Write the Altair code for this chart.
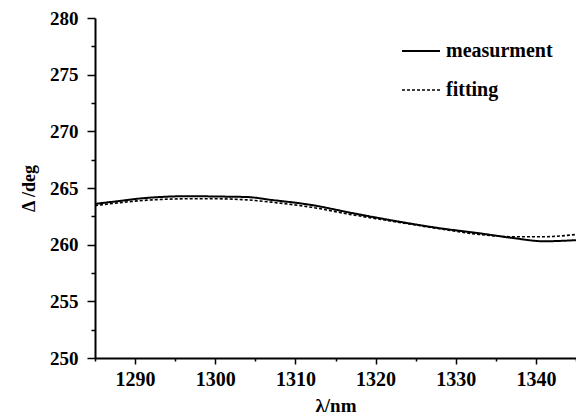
import altair as alt
import pandas as pd

# ---- data ----
wavelength = [1285, 1288, 1291, 1297, 1300, 1304, 1307, 1312, 1317, 1320, 1324, 1328, 1333, 1337, 1341, 1345]
measurement = [263.6, 263.85, 264.1, 264.28, 264.25, 264.2, 263.95, 263.5, 262.8, 262.4, 261.9, 261.45, 261.0, 260.6, 260.3, 260.4]
fitting = [263.45, 263.7, 263.9, 264.05, 264.05, 263.95, 263.75, 263.3, 262.65, 262.3, 261.85, 261.4, 260.9, 260.7, 260.7, 260.9]
series_names = ["measurment", "fitting"]
x_tick_values = [1285, 1290, 1295, 1300, 1305, 1310, 1315, 1320, 1325, 1330, 1335, 1340, 1345]
y_tick_values = [250, 252.5, 255, 257.5, 260, 262.5, 265, 267.5, 270, 272.5, 275, 277.5, 280]

rows = []
for name, vals in zip(series_names, [measurement, fitting]):
    for i, (w, v) in enumerate(zip(wavelength, vals)):
        rows.append({"wavelength": w, "delta": v, "series": name, "order": i})
df = pd.DataFrame(rows)

FONT = "Liberation Serif, Times New Roman, serif"

x_axis = alt.Axis(
    values=x_tick_values, format="d",
    labelExpr="datum.value % 10 == 0 && datum.value > 1285 && datum.value < 1345 ? datum.label : ''",
    tickSize={"condition": {"test": "datum.value % 10 == 0", "value": 6}, "value": 3},
    tickColor="black", tickWidth=1.5,
    domainColor="black", domainWidth=2,
    labelFont=FONT, labelFontSize=20, labelFontWeight="bold", labelColor="black",
    labelPadding=5, grid=False,
    title="λ/nm", titleFont=FONT, titleFontSize=19, titleFontWeight="bold",
    titleColor="black", titlePadding=7,
)
y_axis = alt.Axis(
    values=y_tick_values, format="d",
    labelExpr="datum.value % 5 == 0 ? datum.label : ''",
    tickSize={"condition": {"test": "datum.value % 5 == 0", "value": 8}, "value": 4},
    tickColor="black", tickWidth=1.5,
    domainColor="black", domainWidth=2,
    labelFont=FONT, labelFontSize=19, labelFontWeight="bold", labelColor="black",
    labelPadding=9, grid=False,
    title="Δ /deg", titleFont=FONT, titleFontSize=18, titleFontWeight="bold",
    titleColor="black", titlePadding=11,
)

chart = alt.Chart(df).mark_line(color="black", interpolate="monotone").encode(
    x=alt.X("wavelength:Q", scale=alt.Scale(domain=[1285, 1345], nice=False, zero=False), axis=x_axis),
    y=alt.Y("delta:Q", scale=alt.Scale(domain=[250, 280], nice=False, zero=False), axis=y_axis),
    detail="series:N",
    order="order:Q",
    strokeDash=alt.StrokeDash(
        "series:N",
        scale=alt.Scale(domain=series_names, range=[[1, 0], [3, 2]]),
        legend=alt.Legend(
            title=None, orient="none", legendX=306, legendY=13,
            symbolType="stroke", symbolSize=1444, symbolStrokeWidth=1.5,
            symbolStrokeColor="black",
            labelFont=FONT, labelFontSize=20, labelFontWeight="bold",
            labelColor="black", labelOffset=5, rowPadding=9,
        ),
    ),
    strokeWidth=alt.StrokeWidth(
        "series:N",
        scale=alt.Scale(domain=series_names, range=[2, 1.6]),
        legend=None,
    ),
).properties(
    width=481, height=340,
    autosize=alt.AutoSizeParams(type="none"),
    padding={"left": 87, "top": 10, "right": 0, "bottom": 60},
    background="white",
).configure_view(stroke=None)

chart.save("out.html", embed_options={"renderer": "svg", "actions": False})
